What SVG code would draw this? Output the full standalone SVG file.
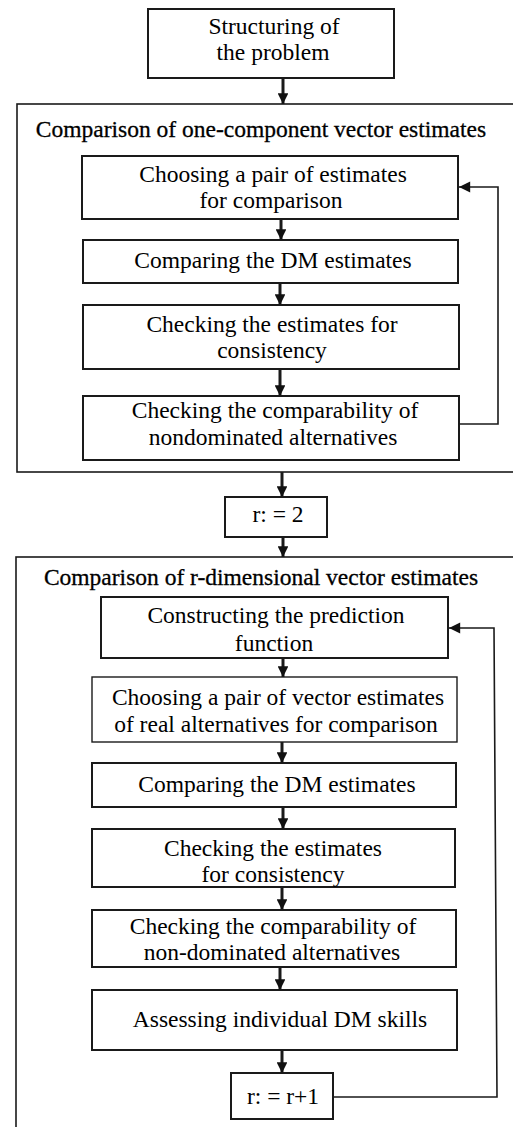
<svg xmlns="http://www.w3.org/2000/svg" width="513" height="1127" viewBox="0 0 513 1127">
<defs>
<style>
.box{fill:#fff;stroke:#1a1a1a;stroke-width:2}
.cont{fill:none;stroke:#1a1a1a;stroke-width:1.6}
.t{font-family:"Liberation Serif","Times New Roman",serif;font-size:23.5px;fill:#000;text-anchor:middle}
.h{font-family:"Liberation Serif","Times New Roman",serif;font-size:23.5px;fill:#000;text-anchor:middle;stroke:#000;stroke-width:0.3}
.c{fill:none;stroke:#1a1a1a;stroke-width:3}
.l{fill:none;stroke:#1a1a1a;stroke-width:1.6}
</style>
<marker id="ah" viewBox="0 0 10 10" refX="10" refY="5" markerWidth="4.2" markerHeight="3.6" orient="auto" markerUnits="strokeWidth">
<path d="M0,0 L10,5 L0,10 z" fill="#111"/>
</marker>
<marker id="ahs" viewBox="0 0 10 10" refX="10" refY="5" markerWidth="9" markerHeight="7" orient="auto" markerUnits="strokeWidth">
<path d="M0,0 L10,5 L0,10 z" fill="#111"/>
</marker>
</defs>

<g id="container1"><rect class="cont" x="17" y="104" width="510" height="368"/>
<text class="h" x="261" y="137">Comparison of one-component vector estimates</text></g>
<g id="container2"><rect class="cont" x="16" y="557" width="510" height="600"/>
<text class="h" x="261" y="585">Comparison of r-dimensional vector estimates</text></g>

<g id="n0"><rect class="box" x="148" y="9" width="246" height="69"/>
<text class="t" x="274" y="34">Structuring of</text><text class="t" x="273" y="60">the problem</text></g>

<g id="a1"><rect class="box" x="82" y="156" width="376" height="63"/>
<text class="t" x="273" y="182">Choosing a pair of estimates</text><text class="t" x="271" y="208">for comparison</text></g>
<g id="a2"><rect class="box" x="83" y="240" width="375" height="43"/>
<text class="t" x="273" y="268">Comparing the DM estimates</text></g>
<g id="a3"><rect class="box" x="83" y="305" width="376" height="64"/>
<text class="t" x="272" y="332">Checking the estimates for</text><text class="t" x="272" y="358">consistency</text></g>
<g id="a4"><rect class="box" x="83" y="396" width="376" height="64"/>
<text class="t" x="275" y="418">Checking the comparability of</text><text class="t" x="273" y="445">nondominated alternatives</text></g>

<g id="r2"><rect class="box" x="225" y="497" width="102" height="40"/>
<text class="t" x="278" y="522">r: = 2</text></g>

<g id="b1"><rect class="box" x="101" y="597" width="347" height="61"/>
<text class="t" x="276" y="623">Constructing the prediction</text><text class="t" x="274" y="651">function</text></g>
<g id="b2"><rect class="box" x="92" y="677" width="365" height="65" style="stroke-width:1.4"/>
<text class="t" x="278" y="705">Choosing a pair of vector estimates</text><text class="t" x="276" y="732">of real alternatives for comparison</text></g>
<g id="b3"><rect class="box" x="92" y="763" width="364" height="44"/>
<text class="t" x="277" y="792">Comparing the DM estimates</text></g>
<g id="b4"><rect class="box" x="92" y="829" width="363" height="58"/>
<text class="t" x="273" y="856">Checking the estimates</text><text class="t" x="273" y="882">for consistency</text></g>
<g id="b5"><rect class="box" x="92" y="910" width="364" height="57"/>
<text class="t" x="273" y="934">Checking the comparability of</text><text class="t" x="272" y="960">non-dominated alternatives</text></g>
<g id="b6"><rect class="box" x="92" y="990" width="365" height="60"/>
<text class="t" x="280" y="1027">Assessing individual DM skills</text></g>
<g id="r3"><rect class="box" x="231" y="1073" width="102" height="46"/>
<text class="t" x="283" y="1104">r: = r+1</text></g>

<g id="connectors">
<line class="c" x1="283" y1="78" x2="283" y2="104" marker-end="url(#ah)"/>
<line class="c" x1="281" y1="219" x2="281" y2="240" marker-end="url(#ah)"/>
<line class="c" x1="280" y1="283" x2="280" y2="305" marker-end="url(#ah)"/>
<line class="c" x1="280" y1="369" x2="280" y2="396" marker-end="url(#ah)"/>
<line class="c" x1="282" y1="472" x2="282" y2="497" marker-end="url(#ah)"/>
<line class="c" x1="283" y1="537" x2="283" y2="557" marker-end="url(#ah)"/>
<line class="c" x1="283" y1="658" x2="283" y2="677" marker-end="url(#ah)"/>
<line class="c" x1="282" y1="742" x2="282" y2="763" marker-end="url(#ah)"/>
<line class="c" x1="283" y1="807" x2="283" y2="829" marker-end="url(#ah)"/>
<line class="c" x1="282" y1="887" x2="282" y2="910" marker-end="url(#ah)"/>
<line class="c" x1="280" y1="967" x2="280" y2="990" marker-end="url(#ah)"/>
<line class="c" x1="282" y1="1050" x2="282" y2="1073" marker-end="url(#ah)"/>
<polyline class="l" points="459,424 498,424 498,187 459,187" marker-end="url(#ahs)"/>
<polyline class="l" points="333,1097 497,1097 494,628 449,628" marker-end="url(#ahs)"/>
</g>
</svg>
